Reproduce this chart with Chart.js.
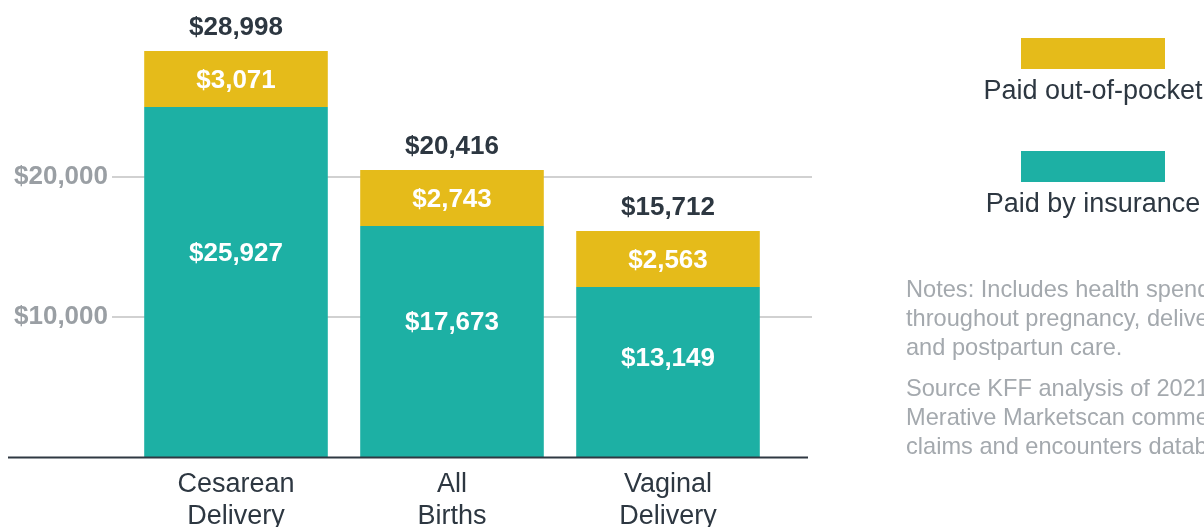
<!DOCTYPE html>
<html><head><meta charset="utf-8">
<script src="https://cdn.jsdelivr.net/npm/chart.js@4.4.1/dist/chart.umd.min.js"></script>
<style>html,body{margin:0;padding:0;background:#fff;overflow:hidden}</style>
</head><body>
<canvas id="c" width="1204" height="527" style="display:block;width:1204px;height:527px"></canvas>
<script>
const categories = [['Cesarean', 'Delivery'], ['All', 'Births'], ['Vaginal', 'Delivery']];
// Printed values (labels)
const paidByInsurance = [25927, 17673, 13149];
const paidOutOfPocket = [3071, 2743, 2563];
const totals = [28998, 20416, 15712];
// Segment heights as drawn in the reference picture
const insuranceBarHeights = [25000, 16500, 12150];
const outOfPocketBarHeights = [4000, 4000, 4000];
const seriesLabels = ['Paid by insurance', 'Paid out-of-pocket'];
const yTickValues = [10000, 20000];
const notesLines = [
  ['Notes: Includes health spending', 'throughout pregnancy, delivery,', 'and postpartun care.'],
  ['Source KFF analysis of 2021', 'Merative Marketscan commercial', 'claims and encounters database']
];

const FONT = "'Liberation Sans', Arial, Helvetica, sans-serif";
const TEAL = '#1db0a4';
const GOLD = '#e5bb1a';
const DARK = '#2d3741';
const fmt = v => '$' + v.toLocaleString('en-US');

const decor = {
  id: 'decor',
  beforeDatasetsDraw(chart) {
    const { ctx, chartArea } = chart;
    const y = chart.scales.y;
    ctx.save();
    ctx.strokeStyle = '#c2c2c2';
    ctx.lineWidth = 1.5;
    yTickValues.forEach(v => {
      const py = Math.round(y.getPixelForValue(v));
      ctx.beginPath();
      ctx.moveTo(chartArea.left - 16, py);
      ctx.lineTo(chartArea.right + 36, py);
      ctx.stroke();
    });
    ctx.restore();
  },
  afterDatasetsDraw(chart) {
    const { ctx, chartArea } = chart;
    const y = chart.scales.y;
    ctx.save();
    const by = Math.round(y.getPixelForValue(0)) + 0.5;
    ctx.strokeStyle = '#2f3842';
    ctx.lineWidth = 2;
    ctx.beginPath();
    ctx.moveTo(8, by);
    ctx.lineTo(chartArea.right + 32, by);
    ctx.stroke();

    ctx.textAlign = 'center';
    ctx.textBaseline = 'middle';
    ctx.font = 'bold 26px ' + FONT;
    const ins = chart.getDatasetMeta(0).data;
    const oop = chart.getDatasetMeta(1).data;
    ins.forEach((el, i) => {
      ctx.fillStyle = '#ffffff';
      const ly = el.y + (el.base - el.y) * 0.42;
      ctx.fillText(fmt(paidByInsurance[i]), el.x, ly);
    });
    oop.forEach((el, i) => {
      ctx.fillStyle = '#ffffff';
      ctx.fillText(fmt(paidOutOfPocket[i]), el.x, (el.y + el.base) / 2 + 2);
      ctx.fillStyle = DARK;
      ctx.fillText(fmt(totals[i]), el.x, el.y - 23);
    });
    ctx.restore();
  },
  afterDraw(chart) {
    const { ctx } = chart;
    ctx.save();
    const ds = chart.data.datasets;
    const items = [ds[1], ds[0]];
    const cx = 1093;
    items.forEach((d, k) => {
      const top = 38 + k * 113;
      ctx.fillStyle = d.backgroundColor;
      ctx.fillRect(cx - 72, top, 144, 31);
      ctx.fillStyle = DARK;
      ctx.font = '27px ' + FONT;
      ctx.textAlign = 'center';
      ctx.textBaseline = 'middle';
      ctx.fillText(d.label, cx, top + 54);
    });
    ctx.fillStyle = '#a4a9ae';
    ctx.font = '23.6px ' + FONT;
    ctx.textAlign = 'left';
    ctx.textBaseline = 'middle';
    let ny = 290;
    notesLines.forEach(par => {
      par.forEach(line => { ctx.fillText(line, 906, ny); ny += 29; });
      ny += 12;
    });
    ctx.restore();
  }
};

new Chart(document.getElementById('c'), {
  type: 'bar',
  data: {
    labels: categories,
    datasets: [
      { label: seriesLabels[0], data: insuranceBarHeights, backgroundColor: TEAL, barPercentage: 0.85, categoryPercentage: 1 },
      { label: seriesLabels[1], data: outOfPocketBarHeights, backgroundColor: GOLD, barPercentage: 0.85, categoryPercentage: 1 }
    ]
  },
  options: {
    responsive: false,
    animation: false,
    devicePixelRatio: 1,
    layout: { padding: { top: 37, right: 428, left: 0, bottom: 0 } },
    plugins: { legend: { display: false }, tooltip: { enabled: false } },
    scales: {
      x: {
        stacked: true,
        grid: { display: false },
        border: { display: false },
        ticks: { color: DARK, font: { family: FONT, size: 27, lineHeight: 1.17 }, padding: 4, maxRotation: 0, autoSkip: false },
        afterFit(s) { s.height = 70; }
      },
      y: {
        stacked: true,
        min: 0, max: 30000,
        grid: { display: false },
        border: { display: false },
        ticks: {
          stepSize: 10000,
          padding: 12,
          color: '#9a9fa4',
          font: { family: FONT, size: 26, weight: 'bold' },
          callback: v => yTickValues.includes(v) ? fmt(v) : ''
        },
        afterFit(s) { s.width = 128; }
      }
    }
  },
  plugins: [decor]
});
</script>
</body></html>
